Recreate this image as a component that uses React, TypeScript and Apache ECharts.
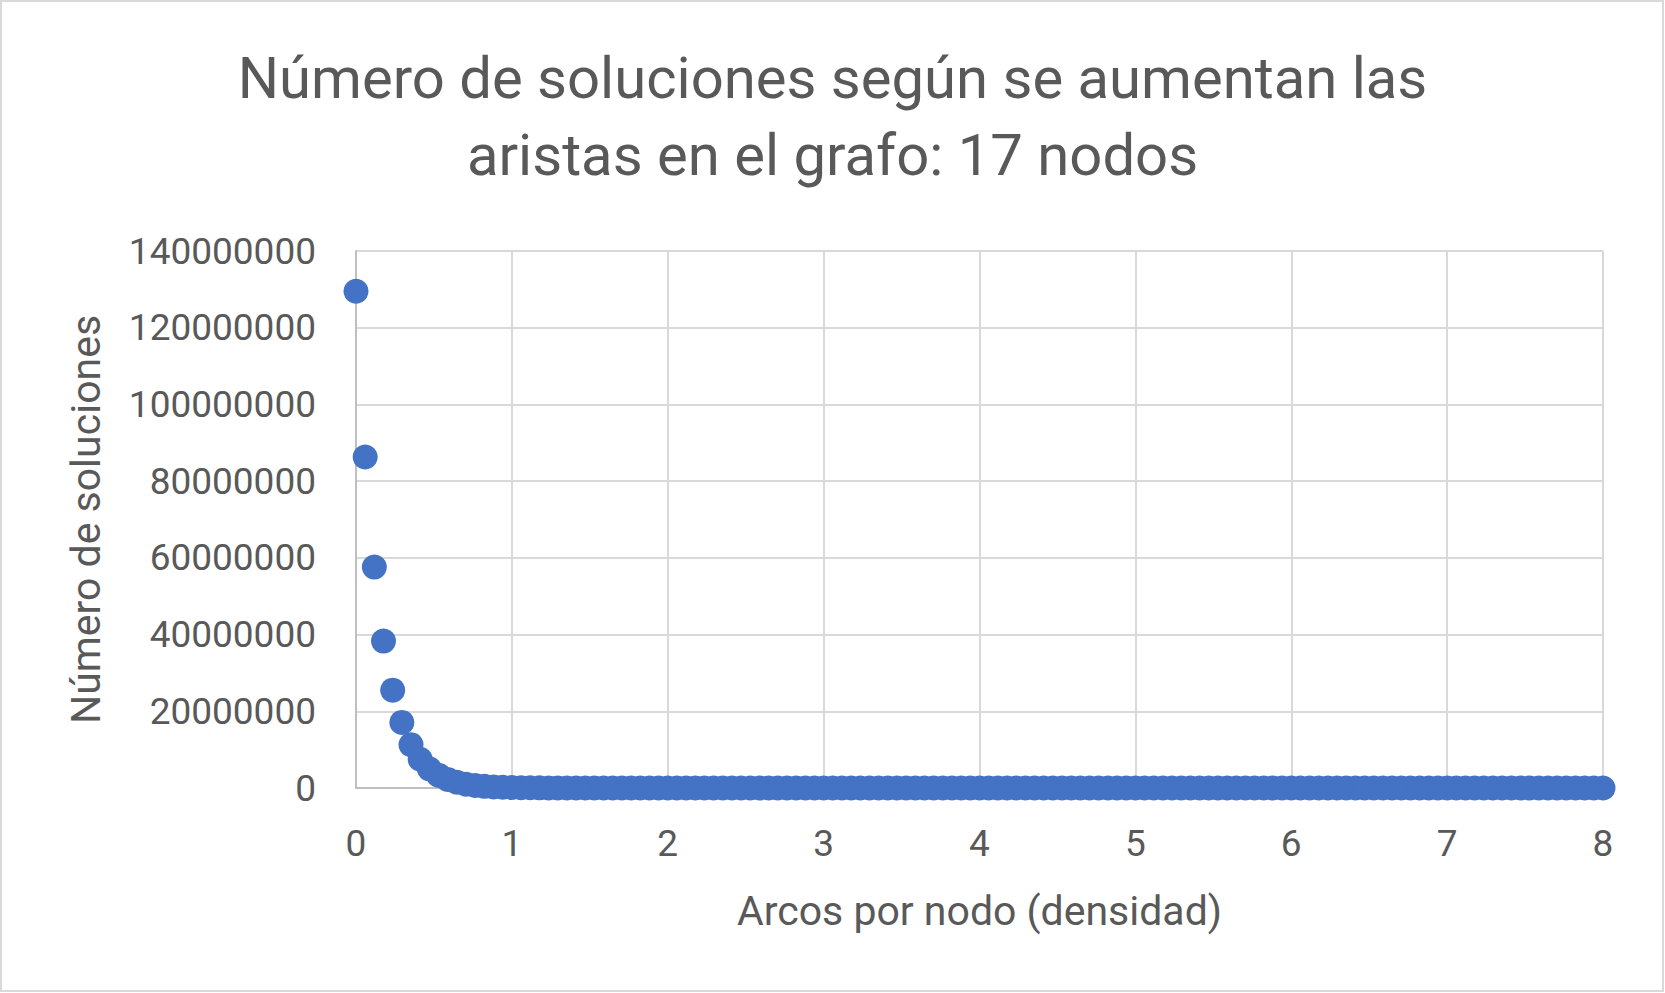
import React, { useEffect, useRef } from "react";
import * as echarts from "echarts";

const TITLE_LINES = ["Número de soluciones según se aumentan las", "aristas en el grafo: 17 nodos"];
const X_NAME = "Arcos por nodo (densidad)";
const Y_NAME = "Número de soluciones";
const NODES = 17;

// Número de soluciones for 0, 1, 2, ... arcs (density = arcs / 17)
const soluciones: number[] = [
  129500000, 86300000, 57600000, 38300000, 25500000, 17100000, 11300000, 7500000, 5000000, 3350000,
  2230000, 1490000, 990000, 660000, 440000, 293000, 195000, 130000, 87000, 58000,
  38000, 25000, 17000, 11000, 7500, 5000, 3300, 2200, 1500, 980,
  650, 430, 290, 190, 130, 85, 57, 38, 25, 17,
  11, 7, 5, 3, 2, 1, 1, 1, 0, 0,
  0, 0, 0, 0, 0, 0, 0, 0, 0, 0,
  0, 0, 0, 0, 0, 0, 0, 0, 0, 0,
  0, 0, 0, 0, 0, 0, 0, 0, 0, 0,
  0, 0, 0, 0, 0, 0, 0, 0, 0, 0,
  0, 0, 0, 0, 0, 0, 0, 0, 0, 0,
  0, 0, 0, 0, 0, 0, 0, 0, 0, 0,
  0, 0, 0, 0, 0, 0, 0, 0, 0, 0,
  0, 0, 0, 0, 0, 0, 0, 0, 0, 0,
  0, 0, 0, 0, 0, 0, 0,
];

const FONT = "Roboto, 'Noto Sans', sans-serif";
const TEXT = "#595959";

export default function App() {
  const ref = useRef<HTMLDivElement>(null);
  useEffect(() => {
    if (!ref.current) return;
    const chart = echarts.init(ref.current, undefined, { renderer: "svg" });
    const data = soluciones.map((v, i) => [i / NODES, v]);
    chart.setOption({
      animation: false,
      backgroundColor: "#ffffff",
      textStyle: { fontFamily: FONT },
      title: {
        text: TITLE_LINES.join("\n"),
        left: "center",
        top: 34,
        textStyle: { fontFamily: FONT, fontSize: 58, fontWeight: "normal", color: TEXT, lineHeight: 77 },
      },
      graphic: [
        {
          type: "rect",
          shape: { x: 1, y: 1, width: 1662, height: 990 },
          style: { fill: "none", stroke: "#d9d9d9", lineWidth: 2 },
          silent: true,
        },
      ],
      grid: { left: 356, right: 62, top: 251, bottom: 205, containLabel: false },
      xAxis: {
        type: "value",
        min: 0,
        max: 8,
        interval: 1,
        name: X_NAME,
        nameLocation: "middle",
        nameGap: 102,
        nameTextStyle: { fontFamily: FONT, fontSize: 41, color: TEXT },
        axisLine: { show: true, lineStyle: { color: "#bfbfbf", width: 2 } },
        axisTick: { show: false },
        axisLabel: { fontFamily: FONT, fontSize: 37, color: TEXT, margin: 37 },
        splitLine: { show: true, lineStyle: { color: "#d9d9d9", width: 2 } },
      },
      yAxis: {
        type: "value",
        min: 0,
        max: 140000000,
        interval: 20000000,
        name: Y_NAME,
        nameLocation: "middle",
        nameGap: 250,
        nameTextStyle: { fontFamily: FONT, fontSize: 41, color: TEXT },
        axisLine: { show: true, lineStyle: { color: "#bfbfbf", width: 2 } },
        axisTick: { show: false },
        axisLabel: { fontFamily: FONT, fontSize: 37, color: TEXT, margin: 40, formatter: (v: number) => String(v) },
        splitLine: { show: true, lineStyle: { color: "#d9d9d9", width: 2 } },
      },
      series: [
        {
          type: "scatter",
          data,
          symbol: "circle",
          symbolSize: 25,
          itemStyle: { color: "#4472C4", opacity: 1 },
          clip: false,
        },
      ],
    });
    return () => chart.dispose();
  }, []);
  return <div ref={ref} style={{ position: "fixed", left: 0, top: 0, width: 1665, height: 993 }} />;
}
